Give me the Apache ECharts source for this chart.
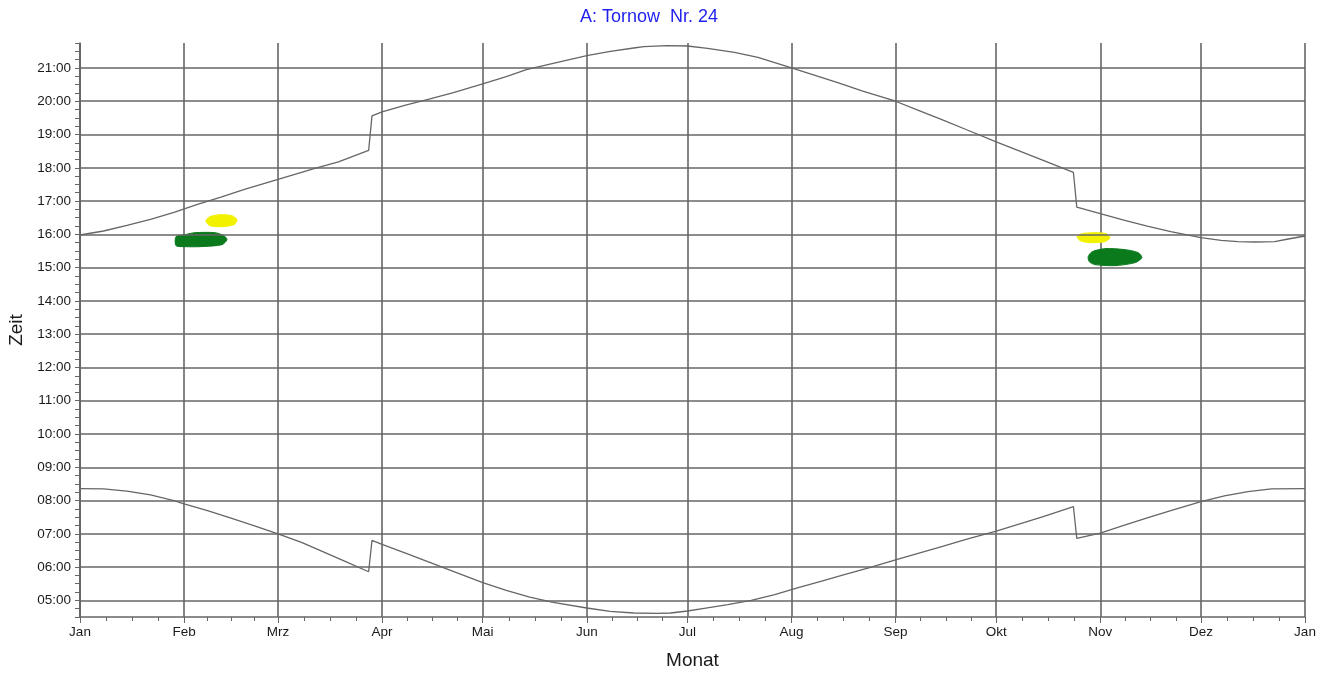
<!DOCTYPE html>
<html><head><meta charset="utf-8">
<script src="https://cdn.jsdelivr.net/npm/echarts@6/dist/echarts.min.js"></script>
<style>html,body{margin:0;padding:0;background:#fff}#c{width:1331px;height:673px}</style>
</head><body><div id="c"></div>
<script>
const monthLabels = ['Jan','Feb','Mrz','Apr','Mai','Jun','Jul','Aug','Sep','Okt','Nov','Dez'];
const hourLines = [5,6,7,8,9,10,11,12,13,14,15,16,17,18,19,20,21];

const sunsetDays = [0,7,14,21,28,35,42,49,56,63,70,77,86,87,90,97,104,111,120,127,133,141,151,158,165,168,175,181,187,195,202,212,219,226,233,243,250,257,264,273,280,287,296,297,304,311,318,325,334,340,345,350,356,360,365];
const sunsetTimes = [15.98,16.1,16.27,16.45,16.66,16.9,17.12,17.35,17.56,17.77,17.98,18.18,18.52,19.56,19.68,19.88,20.06,20.25,20.52,20.74,20.95,21.14,21.37,21.5,21.6,21.64,21.67,21.66,21.59,21.47,21.32,21.0,20.78,20.55,20.31,20.0,19.72,19.44,19.15,18.78,18.5,18.22,17.86,16.82,16.62,16.43,16.25,16.08,15.9,15.82,15.78,15.77,15.78,15.86,15.95];

const sunriseDays = [0,7,14,21,28,31,38,45,52,59,66,72,79,86,87,90,97,104,111,120,127,134,141,151,158,165,172,176,181,186,193,200,207,214,221,228,235,243,250,257,264,273,280,287,296,297,304,311,318,325,334,341,348,355,365];
const sunriseTimes = [8.36,8.35,8.28,8.17,8.0,7.9,7.7,7.47,7.24,7.0,6.74,6.48,6.17,5.86,6.8,6.68,6.42,6.15,5.88,5.53,5.3,5.1,4.94,4.77,4.67,4.62,4.61,4.62,4.68,4.76,4.87,5.0,5.17,5.38,5.58,5.78,5.98,6.22,6.42,6.62,6.83,7.08,7.3,7.52,7.82,6.86,7.02,7.25,7.48,7.7,7.97,8.14,8.27,8.35,8.36];

// shadow zones: [day of year, hour]
const greenFeb = [[28.6,15.93],[31.3,15.99],[34.3,16.05],[40.2,16.05],[42.9,15.96],[43.8,15.84],[42.3,15.69],[35.8,15.63],[31.3,15.63],[28.6,15.66]];
const yellowFeb = [[37.5,16.41],[38.7,16.53],[41.7,16.59],[45.3,16.56],[46.8,16.44],[45.9,16.29],[42.3,16.23],[38.7,16.26]];
const yellowNov = [[297.1,15.93],[298.6,16.02],[302.4,16.05],[305.7,16.02],[306.9,15.9],[305.4,15.78],[300.9,15.75],[298.0,15.81]];
const greenNov = [[300.4,15.33],[301.6,15.48],[305.4,15.57],[311.4,15.54],[315.3,15.45],[316.4,15.3],[314.4,15.15],[308.4,15.06],[302.4,15.09],[300.7,15.18]];

const GREEN = '#0a7a1c', YELLOW = '#f2f200';
const zones = [
  {pts: greenFeb, color: GREEN},
  {pts: yellowFeb, color: YELLOW},
  {pts: yellowNov, color: YELLOW},
  {pts: greenNov, color: GREEN}
];

const DAY = 86400000;
const T0 = Date.UTC(2023, 0, 1);
const ts = d => T0 + d * DAY;
const FONT = '"Liberation Sans", Arial, sans-serif';
const GRID = '#666666';

const chart = echarts.init(document.getElementById('c'), null, {renderer: 'canvas'});
const option = {
  useUTC: true,
  animation: false,
  backgroundColor: '#fff',
  title: {
    text: 'A: Tornow  Nr. 24', left: 575, top: 3,
    textStyle: {color: '#1f1fee', fontSize: 18, fontWeight: 'normal', fontFamily: FONT}
  },
  grid: {left: 80, right: 26, top: 43, bottom: 56, outerBoundsMode: 'none', containLabel: false},
  xAxis: {
    type: 'time', min: ts(0), max: ts(365),
    minInterval: 28 * DAY, maxInterval: 31 * DAY,
    name: 'Monat', nameLocation: 'middle', nameGap: 34,
    nameTextStyle: {color: '#1a1a1a', fontSize: 19, fontFamily: FONT},
    axisLine: {show: true, lineStyle: {color: GRID, width: 1.5}},
    axisTick: {show: true, length: 6, lineStyle: {color: GRID, width: 1}},
    minorTick: {show: true, splitNumber: 4, length: 4, lineStyle: {color: GRID, width: 1}},
    axisLabel: {
      formatter: v => monthLabels[new Date(v).getUTCMonth()],
      color: '#1a1a1a', fontSize: 13.5, fontFamily: FONT, margin: 8,
      showMinLabel: true, showMaxLabel: true
    },
    splitLine: {show: true, lineStyle: {color: GRID, width: 1.6}}
  },
  yAxis: {
    type: 'value', min: 4.5, max: 21.75, interval: 0.25,
    name: 'Zeit', nameLocation: 'middle', nameGap: 51, nameRotate: 90,
    nameTextStyle: {color: '#1a1a1a', fontSize: 19, fontFamily: FONT},
    axisLine: {show: true, lineStyle: {color: GRID, width: 1.5}},
    axisTick: {show: true, length: 5, lineStyle: {color: GRID, width: 1}},
    axisLabel: {
      formatter: v => Number.isInteger(v) ? ((v < 10 ? '0' : '') + v + ':00') : '',
      color: '#1a1a1a', fontSize: 13.5, fontFamily: FONT, margin: 9
    },
    splitLine: {show: false}
  },
  series: [
    {
      type: 'line', name: 'Sonnenuntergang', z: 2, showSymbol: false, silent: true,
      data: sunsetDays.map((d, i) => [ts(d), sunsetTimes[i]]),
      lineStyle: {color: '#666666', width: 1.3},
      markLine: {
        silent: true, symbol: 'none', label: {show: false}, animation: false,
        lineStyle: {color: GRID, width: 1.6, type: 'solid'},
        data: hourLines.map(h => ({yAxis: h}))
      }
    },
    {
      type: 'line', name: 'Sonnenaufgang', z: 2, showSymbol: false, silent: true,
      data: sunriseDays.map((d, i) => [ts(d), sunriseTimes[i]]),
      lineStyle: {color: '#666666', width: 1.3}
    },
    {
      type: 'custom', z: 4, silent: true,
      data: zones.map((z, i) => [ts(z.pts[0][0]), z.pts[0][1], i]),
      renderItem: (params, api) => {
        const zone = zones[api.value(2)];
        const points = zone.pts.map(p => api.coord([ts(p[0]), p[1]]));
        return {type: 'polygon', shape: {points: points, smooth: 0.25},
                style: {fill: zone.color, stroke: zone.color, lineWidth: 1}};
      }
    }
  ]
};
chart.setOption(option);
</script>
</body></html>
